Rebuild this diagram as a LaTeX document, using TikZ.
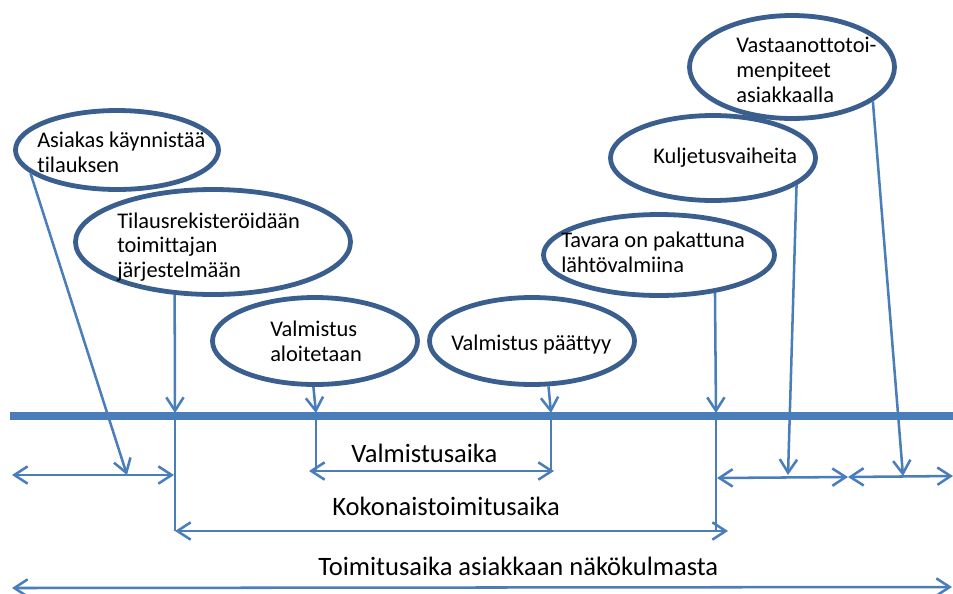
\documentclass[tikz,border=0pt]{standalone}
\usepackage{fontspec}
\setmainfont{Carlito}[Ligatures={NoCommon}]
\usetikzlibrary{shapes.geometric,arrows.meta}
\definecolor{ellline}{HTML}{3A5F8F}
\definecolor{connc}{HTML}{4A7EBB}
\begin{document}
\begin{tikzpicture}[x=0.75pt,y=-0.75pt,
  ell/.style={ellipse,draw=ellline,line width=3.6pt,fill=white,inner sep=0pt},
  etext/.style={font=\fontsize{16.8}{18.6}\selectfont,align=left,anchor=west,inner sep=0pt},
  blabel/.style={font=\fontsize{19.9}{22}\selectfont,anchor=base west,inner sep=0pt},
  conn/.style={draw=connc,line width=1.9pt},
  tip/.style={-{Straight Barb[length=10pt,width=13pt]}},
  both/.style={{Straight Barb[length=10pt,width=13pt]}-{Straight Barb[length=10pt,width=13pt]}},
  timeline/.style={draw=connc,line width=6pt}
]
\useasboundingbox (0,0) rectangle (953,593);

% timeline
\coordinate (tla) at (10,416);
\coordinate (tlb) at (960,416);
\draw[timeline] (tla) -- (tlb);

% ellipses
\node[ell,minimum width=203*0.75pt,minimum height=79*0.75pt] (e1) at (117,150) {};
\node[ell,minimum width=275*0.75pt,minimum height=105*0.75pt] (e2) at (213,242) {};
\node[ell,minimum width=205*0.75pt,minimum height=87*0.75pt] (e3) at (315,341) {};
\node[ell,minimum width=205*0.75pt,minimum height=87*0.75pt] (e4) at (532,341) {};
\node[ell,minimum width=231*0.75pt,minimum height=81*0.75pt] (e5) at (659,255) {};
\node[ell,minimum width=205*0.75pt,minimum height=85*0.75pt] (e6) at (713,158) {};
\node[ell,minimum width=205*0.75pt,minimum height=103*0.75pt] (e7) at (792,67) {};

% ellipse texts
\node[etext] (x1) at (37,152) {Asiakas käynnistää\\tilauksen};
\node[etext] (x2) at (117,247) {Tilausrekisteröidään\\toimittajan\\järjestelmään};
\node[etext] (x3) at (270,341) {Valmistus\\aloitetaan};
\node[etext] (x4) at (451,345) {Valmistus päättyy};
\node[etext] (x5) at (561,252) {Tavara on pakattuna\\lähtövalmiina};
\node[etext] (x6) at (653,158) {Kuljetusvaiheita};
\node[etext] (x7) at (736,70) {Vastaanottotoi-\\menpiteet\\asiakkaalla};

% coordinates
\coordinate (t1) at (175,413);
\coordinate (t3) at (316,413);
\coordinate (t4) at (551,413);
\coordinate (t5) at (716,413);
\coordinate (a1) at (127,475);
\coordinate (a6) at (788,475);
\coordinate (a7) at (903,476);
\coordinate (h1l) at (12,475);
\coordinate (h1r) at (174,475);
\coordinate (vl) at (309,471);
\coordinate (vr) at (554,471);
\coordinate (kl) at (175,531);
\coordinate (kr) at (728,531);
\coordinate (r1l) at (717,478);
\coordinate (rm) at (848,477);
\coordinate (r2r) at (953,476);
\coordinate (tl) at (12,588);
\coordinate (tr) at (952,587);

% connectors from ellipses
\draw[conn,tip] (e1.195) -- (a1);
\draw[conn,tip] (e2.234) -- (t1);
\draw[conn,tip] (e3.268) -- (t3);
\draw[conn,tip] (e4.290) -- (t4);
\draw[conn,tip] (e5.326) -- (t5);
\draw[conn,tip] (e6.342) -- (a6);
\draw[conn,tip] (e7.337) -- (a7);

% vertical continuations
\draw[conn] (t1) -- (kl);
\draw[conn] (t3) -- (t3 |- vl);
\draw[conn] (t4) -- (t4 |- vr);
\draw[conn] (t5) -- (t5 |- kr);

% horizontal spans
\draw[conn,both] (h1l) -- (h1r);
\draw[conn,both] (vl) -- (vr);
\draw[conn,both] (kl) -- (kr);
\draw[conn,both] (r1l) -- (rm);
\draw[conn,both] (rm) -- (r2r);
\draw[conn,both] (tl) -- (tr);

% labels
\node[blabel] (lv) at (351,462) {Valmistusaika};
\node[blabel] (lk) at (332,515) {Kokonaistoimitusaika};
\node[blabel] (lt) at (318,575) {Toimitusaika asiakkaan näkökulmasta};
\end{tikzpicture}
\end{document}
